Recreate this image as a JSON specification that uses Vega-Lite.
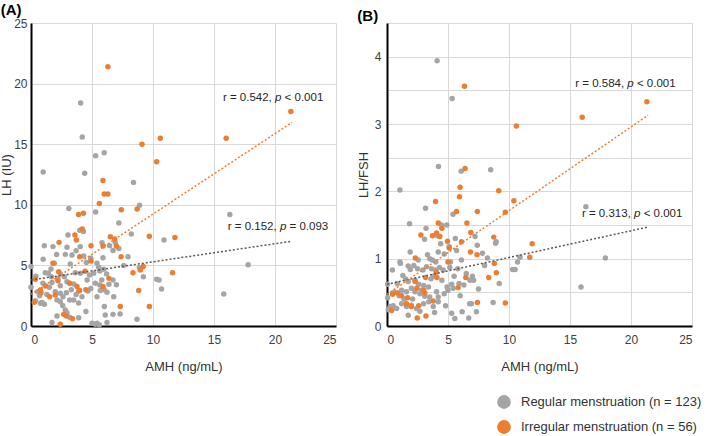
{
  "$schema": "https://vega.github.io/schema/vega-lite/v6.json",
  "padding": {"left": 0, "top": 3, "right": 0, "bottom": 0},
  "background": "white",
  "bounds": "flush",
  "spacing": 51,
  "config": {
    "font": "Liberation Sans",
    "view": {"stroke": null},
    "axis": {"grid": true, "gridColor": "#d9d9d9", "gridWidth": 1, "domainColor": "#000000", "domainWidth": 2, "ticks": false, "labelFontSize": 12, "labelColor": "#404040", "titleFontSize": 13, "titleFontWeight": "normal", "titleColor": "#333333", "labelPadding": 5},
    "axisX": {"labelPadding": 8, "titlePadding": 15},
    "title": {"fontSize": 15, "fontWeight": "bold", "anchor": "start", "frame": "bounds", "offset": -1, "color": "#000000"},
    "legend": {"orient": "none", "legendX": 466, "legendY": 372, "direction": "vertical", "symbolType": "circle", "symbolSize": 190, "symbolStrokeWidth": 0, "symbolOpacity": 1, "labelFontSize": 13, "labelColor": "#333333", "labelOffset": 10, "labelLimit": 400, "rowPadding": 11, "padding": 0, "title": null}
  },
  "datasets": {
    "pts": [
      {"p":"A","g":"Regular","x":4.07,"y":18.4},{"p":"A","g":"Regular","x":4.2,"y":15.6},{"p":"A","g":"Regular","x":5.3,"y":14.05},{"p":"A","g":"Regular","x":6.0,"y":14.3},{"p":"A","g":"Regular","x":1.0,"y":12.7},{"p":"A","g":"Regular","x":4.4,"y":12.6},{"p":"A","g":"Regular","x":8.4,"y":11.85},{"p":"A","g":"Regular","x":8.9,"y":9.96},{"p":"A","g":"Regular","x":3.1,"y":9.7},{"p":"A","g":"Regular","x":5.3,"y":9.4},{"p":"A","g":"Regular","x":7.2,"y":8.5},{"p":"A","g":"Regular","x":4.0,"y":7.9},{"p":"A","g":"Regular","x":16.3,"y":9.2},{"p":"A","g":"Regular","x":10.9,"y":7.1},{"p":"A","g":"Regular","x":17.8,"y":5.06},{"p":"A","g":"Regular","x":10.3,"y":3.85},{"p":"A","g":"Regular","x":10.5,"y":3.8},{"p":"A","g":"Regular","x":10.7,"y":3.05},{"p":"A","g":"Regular","x":15.8,"y":2.64},
      {"p":"A","g":"Regular","x":3.03,"y":7.51},{"p":"A","g":"Regular","x":8.22,"y":7.59},{"p":"A","g":"Regular","x":1.09,"y":6.63},{"p":"A","g":"Regular","x":1.8,"y":6.55},{"p":"A","g":"Regular","x":2.95,"y":6.49},{"p":"A","g":"Regular","x":3.36,"y":5.86},{"p":"A","g":"Regular","x":4.04,"y":6.55},{"p":"A","g":"Regular","x":5.82,"y":6.88},{"p":"A","g":"Regular","x":6.45,"y":6.63},{"p":"A","g":"Regular","x":6.72,"y":6.22},{"p":"A","g":"Regular","x":2.81,"y":5.91},{"p":"A","g":"Regular","x":4.32,"y":5.78},{"p":"A","g":"Regular","x":5.9,"y":5.64},{"p":"A","g":"Regular","x":7.95,"y":5.72},{"p":"A","g":"Regular","x":4.54,"y":5.23},{"p":"A","g":"Regular","x":3.22,"y":5.12},{"p":"A","g":"Regular","x":1.91,"y":5.17},{"p":"A","g":"Regular","x":5.41,"y":5.17},{"p":"A","g":"Regular","x":5.55,"y":4.84},{"p":"A","g":"Regular","x":0.0,"y":4.9},{"p":"A","g":"Regular","x":1.64,"y":4.7},{"p":"A","g":"Regular","x":1.42,"y":4.35},{"p":"A","g":"Regular","x":1.67,"y":4.07},{"p":"A","g":"Regular","x":1.17,"y":4.4},{"p":"A","g":"Regular","x":2.4,"y":4.29},{"p":"A","g":"Regular","x":2.73,"y":4.07},{"p":"A","g":"Regular","x":3.63,"y":4.4},{"p":"A","g":"Regular","x":4.04,"y":4.35},{"p":"A","g":"Regular","x":5.14,"y":4.35},{"p":"A","g":"Regular","x":5.63,"y":4.54},{"p":"A","g":"Regular","x":5.96,"y":4.68},{"p":"A","g":"Regular","x":8.88,"y":4.81},{"p":"A","g":"Regular","x":9.21,"y":4.07},{"p":"A","g":"Regular","x":0.98,"y":3.52},{"p":"A","g":"Regular","x":1.72,"y":3.58},{"p":"A","g":"Regular","x":2.4,"y":3.33},{"p":"A","g":"Regular","x":2.95,"y":3.66},{"p":"A","g":"Regular","x":3.5,"y":3.47},{"p":"A","g":"Regular","x":3.91,"y":2.89},{"p":"A","g":"Regular","x":4.67,"y":2.89},{"p":"A","g":"Regular","x":5.27,"y":3.52},{"p":"A","g":"Regular","x":5.63,"y":3.38},{"p":"A","g":"Regular","x":6.39,"y":3.44},{"p":"A","g":"Regular","x":6.72,"y":3.8},{"p":"A","g":"Regular","x":5.68,"y":2.92},{"p":"A","g":"Regular","x":6.23,"y":2.78},{"p":"A","g":"Regular","x":0.55,"y":2.83},{"p":"A","g":"Regular","x":1.99,"y":2.83},{"p":"A","g":"Regular","x":2.4,"y":2.7},{"p":"A","g":"Regular","x":2.9,"y":2.75},{"p":"A","g":"Regular","x":2.62,"y":2.42},{"p":"A","g":"Regular","x":3.17,"y":2.15},{"p":"A","g":"Regular","x":2.13,"y":2.15},{"p":"A","g":"Regular","x":2.4,"y":2.01},{"p":"A","g":"Regular","x":3.5,"y":2.15},{"p":"A","g":"Regular","x":4.18,"y":2.42},{"p":"A","g":"Regular","x":5.41,"y":2.42},{"p":"A","g":"Regular","x":6.78,"y":2.42},{"p":"A","g":"Regular","x":0.36,"y":2.09},{"p":"A","g":"Regular","x":0.77,"y":1.87},{"p":"A","g":"Regular","x":0.9,"y":1.93},{"p":"A","g":"Regular","x":6.01,"y":1.6},{"p":"A","g":"Regular","x":2.81,"y":1.32},{"p":"A","g":"Regular","x":2.95,"y":1.1},{"p":"A","g":"Regular","x":3.17,"y":0.72},{"p":"A","g":"Regular","x":2.13,"y":0.83},{"p":"A","g":"Regular","x":3.91,"y":0.69},{"p":"A","g":"Regular","x":6.09,"y":0.91},{"p":"A","g":"Regular","x":6.72,"y":0.96},{"p":"A","g":"Regular","x":1.72,"y":0.28},{"p":"A","g":"Regular","x":5.0,"y":0.22},{"p":"A","g":"Regular","x":5.27,"y":0.14},{"p":"A","g":"Regular","x":5.41,"y":0.22},{"p":"A","g":"Regular","x":6.23,"y":0.28},{"p":"A","g":"Regular","x":8.69,"y":0.55},
      {"p":"A","g":"Regular","x":0.0,"y":3.2},{"p":"A","g":"Regular","x":0.4,"y":4.1},{"p":"A","g":"Regular","x":1.0,"y":5.5},{"p":"A","g":"Regular","x":4.3,"y":7.8},{"p":"A","g":"Regular","x":6.9,"y":6.9},{"p":"A","g":"Regular","x":7.2,"y":6.4},{"p":"A","g":"Regular","x":7.3,"y":1.0},{"p":"A","g":"Regular","x":7.0,"y":3.4},{"p":"A","g":"Regular","x":6.0,"y":3.0},{"p":"A","g":"Regular","x":4.8,"y":4.2},{"p":"A","g":"Regular","x":4.6,"y":3.8},{"p":"A","g":"Regular","x":3.3,"y":3.0},{"p":"A","g":"Regular","x":3.7,"y":2.6},{"p":"A","g":"Regular","x":2.2,"y":3.9},{"p":"A","g":"Regular","x":1.5,"y":3.2},{"p":"A","g":"Regular","x":1.3,"y":2.6},{"p":"A","g":"Regular","x":0.7,"y":2.5},{"p":"A","g":"Regular","x":1.1,"y":1.8},{"p":"A","g":"Regular","x":2.6,"y":1.7},{"p":"A","g":"Regular","x":3.9,"y":1.9},{"p":"A","g":"Regular","x":4.5,"y":1.2},{"p":"A","g":"Regular","x":4.9,"y":3.1},{"p":"A","g":"Regular","x":5.8,"y":3.8},{"p":"A","g":"Regular","x":7.6,"y":5.0},{"p":"A","g":"Regular","x":6.2,"y":4.3},{"p":"A","g":"Regular","x":2.1,"y":5.9},{"p":"A","g":"Regular","x":3.7,"y":6.2},{"p":"A","g":"Regular","x":4.9,"y":5.6},{"p":"A","g":"Regular","x":5.6,"y":0.1},
      {"p":"B","g":"Regular","x":4.11,"y":3.94},{"p":"B","g":"Regular","x":5.34,"y":3.38},{"p":"B","g":"Regular","x":4.22,"y":2.37},{"p":"B","g":"Regular","x":6.08,"y":2.3},{"p":"B","g":"Regular","x":8.5,"y":2.32},{"p":"B","g":"Regular","x":1.06,"y":2.02},{"p":"B","g":"Regular","x":3.16,"y":1.75},{"p":"B","g":"Regular","x":1.85,"y":1.52},{"p":"B","g":"Regular","x":4.47,"y":1.5},{"p":"B","g":"Regular","x":5.41,"y":1.66},{"p":"B","g":"Regular","x":16.3,"y":1.77},
      {"p":"B","g":"Regular","x":3.08,"y":1.29},{"p":"B","g":"Regular","x":4.14,"y":1.34},{"p":"B","g":"Regular","x":7.22,"y":1.33},{"p":"B","g":"Regular","x":8.9,"y":1.23},{"p":"B","g":"Regular","x":8.95,"y":1.25},{"p":"B","g":"Regular","x":5.7,"y":1.12},{"p":"B","g":"Regular","x":5.1,"y":1.18},{"p":"B","g":"Regular","x":7.82,"y":1.08},{"p":"B","g":"Regular","x":8.23,"y":1.01},{"p":"B","g":"Regular","x":1.06,"y":0.95},{"p":"B","g":"Regular","x":1.1,"y":0.93},{"p":"B","g":"Regular","x":3.32,"y":1.06},{"p":"B","g":"Regular","x":4.2,"y":1.1},{"p":"B","g":"Regular","x":3.51,"y":1.0},{"p":"B","g":"Regular","x":2.56,"y":0.98},{"p":"B","g":"Regular","x":4.69,"y":1.07},{"p":"B","g":"Regular","x":3.73,"y":0.98},{"p":"B","g":"Regular","x":17.9,"y":1.01},{"p":"B","g":"Regular","x":10.7,"y":0.95},{"p":"B","g":"Regular","x":10.3,"y":0.84},{"p":"B","g":"Regular","x":10.5,"y":0.84},{"p":"B","g":"Regular","x":10.9,"y":1.02},{"p":"B","g":"Regular","x":0.44,"y":0.83},{"p":"B","g":"Regular","x":1.74,"y":0.89},{"p":"B","g":"Regular","x":1.91,"y":0.84},{"p":"B","g":"Regular","x":2.5,"y":0.85},{"p":"B","g":"Regular","x":3.24,"y":0.88},{"p":"B","g":"Regular","x":3.65,"y":0.85},{"p":"B","g":"Regular","x":3.98,"y":0.83},{"p":"B","g":"Regular","x":4.3,"y":0.87},{"p":"B","g":"Regular","x":4.6,"y":0.83},{"p":"B","g":"Regular","x":5.15,"y":0.87},{"p":"B","g":"Regular","x":5.5,"y":0.74},{"p":"B","g":"Regular","x":3.79,"y":0.74},{"p":"B","g":"Regular","x":2.94,"y":0.83},{"p":"B","g":"Regular","x":2.3,"y":0.68},{"p":"B","g":"Regular","x":1.74,"y":0.66},{"p":"B","g":"Regular","x":1.53,"y":0.7},{"p":"B","g":"Regular","x":0.84,"y":0.63},{"p":"B","g":"Regular","x":0.05,"y":0.62},{"p":"B","g":"Regular","x":6.5,"y":0.78},{"p":"B","g":"Regular","x":7.0,"y":0.74},{"p":"B","g":"Regular","x":7.1,"y":0.68},{"p":"B","g":"Regular","x":6.8,"y":0.68},{"p":"B","g":"Regular","x":5.9,"y":0.63},{"p":"B","g":"Regular","x":5.3,"y":0.62},{"p":"B","g":"Regular","x":4.93,"y":0.58},{"p":"B","g":"Regular","x":9.2,"y":0.63},{"p":"B","g":"Regular","x":2.0,"y":0.56},{"p":"B","g":"Regular","x":0.05,"y":0.42},{"p":"B","g":"Regular","x":1.2,"y":0.53},{"p":"B","g":"Regular","x":1.6,"y":0.51},{"p":"B","g":"Regular","x":2.29,"y":0.51},{"p":"B","g":"Regular","x":2.7,"y":0.48},{"p":"B","g":"Regular","x":3.1,"y":0.44},{"p":"B","g":"Regular","x":3.5,"y":0.43},{"p":"B","g":"Regular","x":2.83,"y":0.53},{"p":"B","g":"Regular","x":4.06,"y":0.51},{"p":"B","g":"Regular","x":4.2,"y":0.43},{"p":"B","g":"Regular","x":4.69,"y":0.48},{"p":"B","g":"Regular","x":5.0,"y":0.53},{"p":"B","g":"Regular","x":5.42,"y":0.56},{"p":"B","g":"Regular","x":6.3,"y":0.61},{"p":"B","g":"Regular","x":15.9,"y":0.58},{"p":"B","g":"Regular","x":1.2,"y":0.33},{"p":"B","g":"Regular","x":1.6,"y":0.29},{"p":"B","g":"Regular","x":2.0,"y":0.31},{"p":"B","g":"Regular","x":2.43,"y":0.26},{"p":"B","g":"Regular","x":3.0,"y":0.33},{"p":"B","g":"Regular","x":3.43,"y":0.36},{"p":"B","g":"Regular","x":3.79,"y":0.29},{"p":"B","g":"Regular","x":4.2,"y":0.36},{"p":"B","g":"Regular","x":0.25,"y":0.29},{"p":"B","g":"Regular","x":0.1,"y":0.24},{"p":"B","g":"Regular","x":0.79,"y":0.26},{"p":"B","g":"Regular","x":1.74,"y":0.16},{"p":"B","g":"Regular","x":5.3,"y":0.19},{"p":"B","g":"Regular","x":5.56,"y":0.11},{"p":"B","g":"Regular","x":6.16,"y":0.21},{"p":"B","g":"Regular","x":7.33,"y":0.21},{"p":"B","g":"Regular","x":6.78,"y":0.33},{"p":"B","g":"Regular","x":6.92,"y":0.33},{"p":"B","g":"Regular","x":8.7,"y":0.35},
      {"p":"B","g":"Regular","x":1.3,"y":0.75},{"p":"B","g":"Regular","x":2.6,"y":0.62},{"p":"B","g":"Regular","x":3.4,"y":0.58},{"p":"B","g":"Regular","x":4.5,"y":0.68},{"p":"B","g":"Regular","x":4.0,"y":0.95},{"p":"B","g":"Regular","x":2.2,"y":0.9},{"p":"B","g":"Regular","x":1.0,"y":0.45},{"p":"B","g":"Regular","x":0.6,"y":0.5},{"p":"B","g":"Regular","x":3.0,"y":0.6},{"p":"B","g":"Regular","x":5.8,"y":0.85},{"p":"B","g":"Regular","x":6.1,"y":0.98},{"p":"B","g":"Regular","x":5.6,"y":1.3},{"p":"B","g":"Regular","x":4.4,"y":1.22},{"p":"B","g":"Regular","x":3.6,"y":0.7},{"p":"B","g":"Regular","x":2.1,"y":0.4},{"p":"B","g":"Regular","x":1.4,"y":0.4},{"p":"B","g":"Regular","x":2.7,"y":0.22},{"p":"B","g":"Regular","x":4.8,"y":0.3},{"p":"B","g":"Regular","x":3.9,"y":0.2},{"p":"B","g":"Regular","x":6.0,"y":0.45},{"p":"B","g":"Regular","x":7.5,"y":0.55},{"p":"B","g":"Regular","x":8.0,"y":0.9},{"p":"B","g":"Regular","x":7.4,"y":1.2},{"p":"B","g":"Regular","x":3.2,"y":1.45},{"p":"B","g":"Regular","x":0.5,"y":0.3},{"p":"B","g":"Regular","x":1.9,"y":1.1},{"p":"B","g":"Regular","x":4.9,"y":1.5},{"p":"B","g":"Regular","x":6.7,"y":0.12},{"p":"B","g":"Regular","x":5.2,"y":0.95},
      {"p":"A","g":"Irregular","x":6.3,"y":21.4},{"p":"A","g":"Irregular","x":21.3,"y":17.7},{"p":"A","g":"Irregular","x":16.0,"y":15.5},{"p":"A","g":"Irregular","x":10.6,"y":15.5},{"p":"A","g":"Irregular","x":9.1,"y":15.0},{"p":"A","g":"Irregular","x":10.3,"y":13.55},{"p":"A","g":"Irregular","x":5.9,"y":12.0},{"p":"A","g":"Irregular","x":6.0,"y":10.9},{"p":"A","g":"Irregular","x":6.3,"y":10.9},{"p":"A","g":"Irregular","x":5.6,"y":10.1},{"p":"A","g":"Irregular","x":4.3,"y":9.3},{"p":"A","g":"Irregular","x":3.9,"y":9.2},{"p":"A","g":"Irregular","x":7.4,"y":9.6},{"p":"A","g":"Irregular","x":8.7,"y":9.65},{"p":"A","g":"Irregular","x":4.2,"y":8.0},{"p":"A","g":"Irregular","x":3.6,"y":7.5},{"p":"A","g":"Irregular","x":9.7,"y":7.4},{"p":"A","g":"Irregular","x":11.8,"y":7.3},{"p":"A","g":"Irregular","x":11.6,"y":4.4},{"p":"A","g":"Irregular","x":9.7,"y":1.6},{"p":"A","g":"Irregular","x":3.72,"y":7.1},{"p":"A","g":"Irregular","x":6.5,"y":7.37},{"p":"A","g":"Irregular","x":6.86,"y":7.18},{"p":"A","g":"Irregular","x":2.3,"y":6.9},{"p":"A","g":"Irregular","x":4.92,"y":6.63},{"p":"A","g":"Irregular","x":3.99,"y":5.72},{"p":"A","g":"Irregular","x":7.38,"y":5.72},{"p":"A","g":"Irregular","x":4.92,"y":5.36},{"p":"A","g":"Irregular","x":1.8,"y":5.17},{"p":"A","g":"Irregular","x":2.27,"y":4.48},{"p":"A","g":"Irregular","x":4.43,"y":4.51},{"p":"A","g":"Irregular","x":8.36,"y":4.4},{"p":"A","g":"Irregular","x":8.96,"y":4.62},{"p":"A","g":"Irregular","x":0.36,"y":3.85},{"p":"A","g":"Irregular","x":2.21,"y":3.74},{"p":"A","g":"Irregular","x":3.17,"y":3.52},{"p":"A","g":"Irregular","x":3.77,"y":3.25},{"p":"A","g":"Irregular","x":3.99,"y":2.92},{"p":"A","g":"Irregular","x":5.9,"y":3.25},{"p":"A","g":"Irregular","x":6.39,"y":3.93},{"p":"A","g":"Irregular","x":8.83,"y":2.92},{"p":"A","g":"Irregular","x":0.77,"y":2.97},{"p":"A","g":"Irregular","x":0.82,"y":2.75},{"p":"A","g":"Irregular","x":1.53,"y":2.42},{"p":"A","g":"Irregular","x":1.99,"y":2.56},{"p":"A","g":"Irregular","x":0.27,"y":1.95},{"p":"A","g":"Irregular","x":7.32,"y":1.6},{"p":"A","g":"Irregular","x":2.68,"y":0.96},{"p":"A","g":"Irregular","x":2.9,"y":0.83},{"p":"A","g":"Irregular","x":2.4,"y":0.14},{"p":"A","g":"Irregular","x":9.2,"y":4.9},{"p":"A","g":"Irregular","x":5.9,"y":6.6},{"p":"A","g":"Irregular","x":3.4,"y":0.6},{"p":"A","g":"Irregular","x":1.2,"y":3.3},{"p":"A","g":"Irregular","x":4.5,"y":3.0},{"p":"A","g":"Irregular","x":7.0,"y":6.6},
      {"p":"B","g":"Irregular","x":6.35,"y":3.56},{"p":"B","g":"Irregular","x":10.6,"y":2.97},{"p":"B","g":"Irregular","x":16.0,"y":3.1},{"p":"B","g":"Irregular","x":21.3,"y":3.33},{"p":"B","g":"Irregular","x":6.4,"y":2.34},{"p":"B","g":"Irregular","x":3.98,"y":1.85},{"p":"B","g":"Irregular","x":5.99,"y":2.06},{"p":"B","g":"Irregular","x":5.94,"y":1.92},{"p":"B","g":"Irregular","x":9.16,"y":2.01},{"p":"B","g":"Irregular","x":10.4,"y":1.86},{"p":"B","g":"Irregular","x":5.7,"y":1.7},{"p":"B","g":"Irregular","x":7.4,"y":1.7},{"p":"B","g":"Irregular","x":9.7,"y":1.69},{"p":"B","g":"Irregular","x":6.55,"y":1.53},{"p":"B","g":"Irregular","x":4.2,"y":1.53},{"p":"B","g":"Irregular","x":2.78,"y":1.35},{"p":"B","g":"Irregular","x":3.73,"y":1.34},{"p":"B","g":"Irregular","x":4.06,"y":1.38},{"p":"B","g":"Irregular","x":4.33,"y":1.33},{"p":"B","g":"Irregular","x":6.87,"y":1.39},{"p":"B","g":"Irregular","x":8.75,"y":1.32},{"p":"B","g":"Irregular","x":4.96,"y":1.26},{"p":"B","g":"Irregular","x":5.1,"y":1.16},{"p":"B","g":"Irregular","x":6.84,"y":1.1},{"p":"B","g":"Irregular","x":7.38,"y":1.06},{"p":"B","g":"Irregular","x":2.32,"y":1.01},{"p":"B","g":"Irregular","x":11.7,"y":1.02},{"p":"B","g":"Irregular","x":11.9,"y":1.22},{"p":"B","g":"Irregular","x":8.8,"y":0.93},{"p":"B","g":"Irregular","x":3.16,"y":0.72},{"p":"B","g":"Irregular","x":4.09,"y":0.72},{"p":"B","g":"Irregular","x":6.46,"y":0.72},{"p":"B","g":"Irregular","x":8.34,"y":0.72},{"p":"B","g":"Irregular","x":5.83,"y":0.57},{"p":"B","g":"Irregular","x":2.45,"y":0.56},{"p":"B","g":"Irregular","x":1.69,"y":0.42},{"p":"B","g":"Irregular","x":0.87,"y":0.49},{"p":"B","g":"Irregular","x":0.46,"y":0.47},{"p":"B","g":"Irregular","x":2.0,"y":0.29},{"p":"B","g":"Irregular","x":3.79,"y":0.37},{"p":"B","g":"Irregular","x":1.6,"y":0.33},{"p":"B","g":"Irregular","x":0.38,"y":0.23},{"p":"B","g":"Irregular","x":2.48,"y":0.12},{"p":"B","g":"Irregular","x":3.19,"y":0.15},{"p":"B","g":"Irregular","x":7.41,"y":0.35},{"p":"B","g":"Irregular","x":9.7,"y":0.34},{"p":"B","g":"Irregular","x":8.96,"y":0.79},{"p":"B","g":"Irregular","x":4.04,"y":0.8},{"p":"B","g":"Irregular","x":2.3,"y":0.66},{"p":"B","g":"Irregular","x":3.0,"y":0.53},{"p":"B","g":"Irregular","x":3.1,"y":0.49},{"p":"B","g":"Irregular","x":5.0,"y":0.95},{"p":"B","g":"Irregular","x":1.2,"y":0.45},{"p":"B","g":"Irregular","x":4.5,"y":1.45},{"p":"B","g":"Irregular","x":6.1,"y":1.25},{"p":"B","g":"Irregular","x":2.6,"y":0.3}
    ],
    "lines": [
      {"p":"A","g":"Regular","x":0,"y":3.8},{"p":"A","g":"Regular","x":21.4,"y":7.0},
      {"p":"A","g":"Irregular","x":0,"y":2.6},{"p":"A","g":"Irregular","x":21.4,"y":16.8},
      {"p":"B","g":"Regular","x":0,"y":0.62},{"p":"B","g":"Regular","x":21.4,"y":1.47},
      {"p":"B","g":"Irregular","x":0,"y":0.47},{"p":"B","g":"Irregular","x":21.4,"y":3.13}
    ],
    "notes": [
      {"p":"A","r":"r = 0.542,","q":"< 0.001","x":20.0,"y":18.8},
      {"p":"A","r":"r = 0.152,","q":"= 0.093","x":20.4,"y":8.17},
      {"p":"B","r":"r = 0.584,","q":"< 0.001","x":19.7,"y":3.6},
      {"p":"B","r":"r = 0.313,","q":"< 0.001","x":20.25,"y":1.67}
    ]
  },
  "hconcat": [
    {
      "width": 305, "height": 303,
      "title": {"text": "(A)"},
      "encoding": {
        "x": {"field": "x", "type": "quantitative", "scale": {"domain": [0, 25], "nice": false}, "axis": {"values": [0, 5, 10, 15, 20, 25], "title": "AMH (ng/mL)"}},
        "y": {"field": "y", "type": "quantitative", "scale": {"domain": [0, 25], "nice": false}, "axis": {"values": [0, 5, 10, 15, 20, 25], "title": "LH (IU)", "labelPadding": 4, "titlePadding": 0}}
      },
      "layer": [
        {"data": {"name": "pts"}, "transform": [{"filter": "datum.p === 'A'"}], "mark": {"type": "circle", "size": 30, "opacity": 1},
         "encoding": {"color": {"field": "g", "type": "nominal", "scale": {"domain": ["Regular", "Irregular"], "range": ["#A5A5A5", "#ED7D31"]}, "legend": {"labelExpr": "datum.value === 'Regular' ? 'Regular menstruation (n = 123)' : 'Irregular menstruation (n = 56)'"}}}},
        {"data": {"name": "lines"}, "transform": [{"filter": "datum.p === 'A' && datum.g === 'Regular'"}], "mark": {"type": "line", "strokeDash": [2, 2], "strokeWidth": 1.5, "color": "#595959"}, "encoding": {}},
        {"data": {"name": "lines"}, "transform": [{"filter": "datum.p === 'A' && datum.g === 'Irregular'"}], "mark": {"type": "line", "strokeDash": [2, 2], "strokeWidth": 1.5, "color": "#ED7D31"}, "encoding": {}},
        {"data": {"name": "notes"}, "transform": [{"filter": "datum.p === 'A'"}], "mark": {"type": "text", "align": "right", "baseline": "middle", "dx": -3.2, "fontSize": 11.5, "color": "#262626"}, "encoding": {"text": {"field": "r"}}},
        {"data": {"name": "notes"}, "transform": [{"filter": "datum.p === 'A'"}], "mark": {"type": "text", "align": "left", "baseline": "middle", "fontSize": 11.5, "fontStyle": "italic", "color": "#262626", "text": "p"}, "encoding": {}},
        {"data": {"name": "notes"}, "transform": [{"filter": "datum.p === 'A'"}], "mark": {"type": "text", "align": "left", "baseline": "middle", "dx": 9.6, "fontSize": 11.5, "color": "#262626"}, "encoding": {"text": {"field": "q"}}}
      ]
    },
    {
      "width": 305, "height": 303,
      "title": {"text": "(B)"},
      "encoding": {
        "x": {"field": "x", "type": "quantitative", "scale": {"domain": [0, 25], "nice": false}, "axis": {"values": [0, 5, 10, 15, 20, 25], "title": "AMH (ng/mL)"}},
        "y": {"field": "y", "type": "quantitative", "scale": {"domain": [0, 4.5], "nice": false}, "axis": {"values": [0, 0.5, 1, 1.5, 2, 2.5, 3, 3.5, 4, 4.5], "labelExpr": "datum.value % 1 === 0 ? format(datum.value, 'd') : ''", "title": "LH/FSH", "labelPadding": 6, "titlePadding": 4}}
      },
      "layer": [
        {"data": {"name": "pts"}, "transform": [{"filter": "datum.p === 'B'"}], "mark": {"type": "circle", "size": 30, "opacity": 1},
         "encoding": {"color": {"field": "g", "type": "nominal", "scale": {"domain": ["Regular", "Irregular"], "range": ["#A5A5A5", "#ED7D31"]}, "legend": {"labelExpr": "datum.value === 'Regular' ? 'Regular menstruation (n = 123)' : 'Irregular menstruation (n = 56)'"}}}},
        {"data": {"name": "lines"}, "transform": [{"filter": "datum.p === 'B' && datum.g === 'Regular'"}], "mark": {"type": "line", "strokeDash": [2, 2], "strokeWidth": 1.5, "color": "#595959"}, "encoding": {}},
        {"data": {"name": "lines"}, "transform": [{"filter": "datum.p === 'B' && datum.g === 'Irregular'"}], "mark": {"type": "line", "strokeDash": [2, 2], "strokeWidth": 1.5, "color": "#ED7D31"}, "encoding": {}},
        {"data": {"name": "notes"}, "transform": [{"filter": "datum.p === 'B'"}], "mark": {"type": "text", "align": "right", "baseline": "middle", "dx": -3.2, "fontSize": 11.5, "color": "#262626"}, "encoding": {"text": {"field": "r"}}},
        {"data": {"name": "notes"}, "transform": [{"filter": "datum.p === 'B'"}], "mark": {"type": "text", "align": "left", "baseline": "middle", "fontSize": 11.5, "fontStyle": "italic", "color": "#262626", "text": "p"}, "encoding": {}},
        {"data": {"name": "notes"}, "transform": [{"filter": "datum.p === 'B'"}], "mark": {"type": "text", "align": "left", "baseline": "middle", "dx": 9.6, "fontSize": 11.5, "color": "#262626"}, "encoding": {"text": {"field": "q"}}}
      ]
    }
  ]
}
